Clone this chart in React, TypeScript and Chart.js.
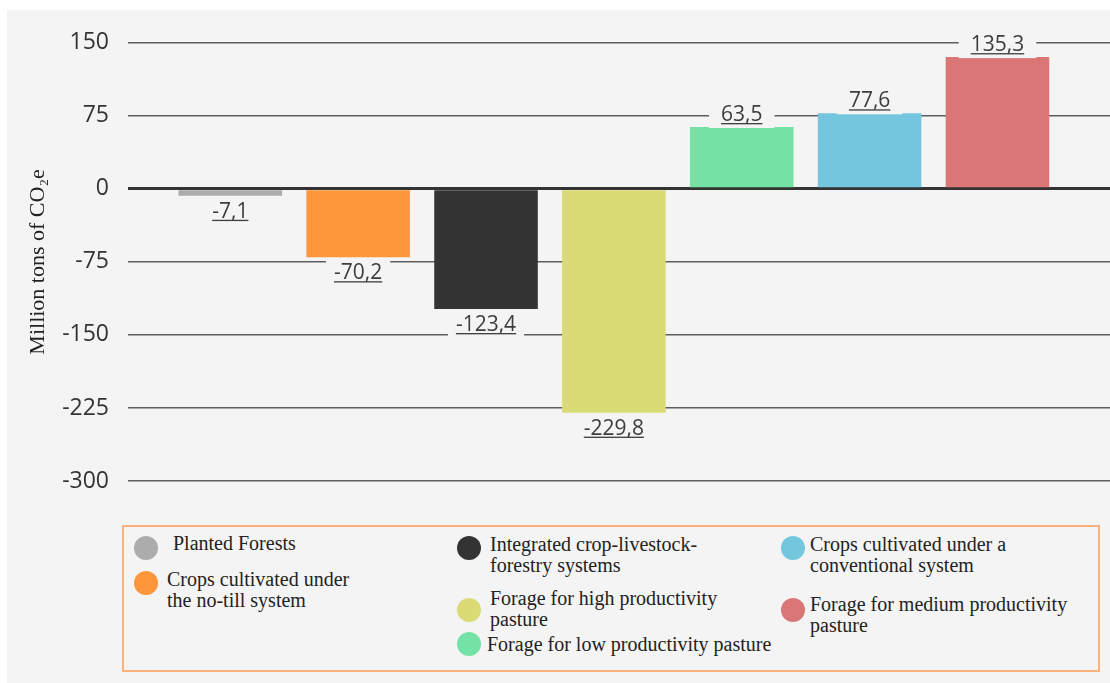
import React, { useEffect, useRef } from "react";
import { Chart, registerables } from "chart.js";

Chart.register(...registerables);

// ---- data ----
const categories = [
  "Planted Forests",
  "Crops cultivated under the no-till system",
  "Integrated crop-livestock-forestry systems",
  "Forage for high productivity pasture",
  "Forage for low productivity pasture",
  "Crops cultivated under a conventional system",
  "Forage for medium productivity pasture",
];
const legendLines = [
  ["Planted Forests"],
  ["Crops cultivated under", "the no-till system"],
  ["Integrated crop-livestock-", "forestry systems"],
  ["Forage for high productivity", "pasture"],
  ["Forage for low productivity pasture"],
  ["Crops cultivated under a", "conventional system"],
  ["Forage for medium productivity", "pasture"],
];
const values = [-7.1, -70.2, -123.4, -229.8, 63.5, 77.6, 135.3];
const colors = ["#acacac", "#fd963a", "#333333", "#dbdb76", "#74e2a5", "#74c6de", "#db7676"];
const yTicks = [150, 75, 0, -75, -150, -225, -300];
const yTitle = "Million tons of CO\u2082e";

// ---- layout (styles only) ----
const PANEL_X = 7;
const PANEL_Y = 10;
const CANVAS_W = 1103;
const CANVAS_H = 505;
// legend item positions in page coords: marker center (mx,my), text left (tx), text top (ty)
const legendPos = [
  { mx: 146, my: 548, tx: 173, ty: 533 },
  { mx: 146, my: 583, tx: 167, ty: 569 },
  { mx: 469, my: 548, tx: 490, ty: 534 },
  { mx: 469, my: 610, tx: 490, ty: 588 },
  { mx: 469, my: 644, tx: 487, ty: 634 },
  { mx: 793, my: 548, tx: 810, ty: 534 },
  { mx: 793, my: 610, tx: 810, ty: 594 },
];

const fmt = (v: number) => v.toFixed(1).replace(".", ",");

const valueLabelPlugin = {
  id: "valueLabels",
  afterDatasetsDraw(chart: any) {
    const ctx = chart.ctx;
    const meta = chart.getDatasetMeta(0);
    ctx.save();
    ctx.font = '21px "Open Sans"';
    ctx.textBaseline = "alphabetic";
    ctx.textAlign = "left";
    meta.data.forEach((el: any, i: number) => {
      const v = values[i];
      const text = fmt(v);
      const w = ctx.measureText(text).width;
      const baseline = v >= 0 ? el.y - 6 : el.y + 22;
      const left = el.x - w / 2;
      ctx.fillStyle = "#f4f4f4";
      if (v >= 0) ctx.fillRect(left - 12, baseline - 20, w + 24, 27);
      else ctx.fillRect(left - 8, baseline - 20, w + 16, 25);
      ctx.fillStyle = "#3d3d3d";
      ctx.fillText(text, left, baseline);
      ctx.fillRect(left, baseline + 2, w, 1.3);
    });
    ctx.restore();
  },
};

function ChartCanvas() {
  const ref = useRef<HTMLCanvasElement | null>(null);
  useEffect(() => {
    if (!ref.current) return;
    const chart = new Chart(ref.current, {
      type: "bar",
      data: {
        labels: categories,
        datasets: [
          {
            label: yTitle,
            data: values.map((v, i) => ({ x: i, y: v })) as any,
            backgroundColor: colors,
            borderWidth: 0,
            barPercentage: 0.9,
            categoryPercentage: 0.9,
          },
        ],
      },
      options: {
        animation: false,
        responsive: false,
        devicePixelRatio: 1,
        layout: { padding: { top: 28, bottom: 34, left: 0, right: 0 } },
        plugins: {
          legend: { display: false },
          tooltip: { enabled: false },
        },
        scales: {
          x: {
            type: "linear",
            display: false,
            offset: false,
            min: -0.8,
            max: 6.88,
            afterBuildTicks: (scale: any) => {
              scale.ticks = categories.map((_, i) => ({ value: i }));
            },
          },
          y: {
            min: -300,
            max: 150,
            afterBuildTicks: (scale: any) => {
              scale.ticks = yTicks.map((v) => ({ value: v }));
            },
            afterFit: (scale: any) => {
              scale.width = 121;
            },
            border: { display: false },
            grid: {
              drawTicks: false,
              color: (c: any) => (c.tick && c.tick.value === 0 ? "#333333" : "#5e5e5e"),
              lineWidth: (c: any) => (c.tick && c.tick.value === 0 ? 3 : 1.5),
            },
            ticks: {
              padding: 19,
              color: "#333333",
              font: { family: "Open Sans", size: 23 },
            },
            title: {
              display: true,
              text: yTitle,
              color: "#222222",
              font: { family: "Liberation Serif", size: 22 },
              padding: { top: 18, bottom: 0 },
            },
          },
        },
      },
      plugins: [valueLabelPlugin],
    });
    return () => chart.destroy();
  }, []);
  return (
    <canvas
      ref={ref}
      width={CANVAS_W}
      height={CANVAS_H}
      style={{ position: "absolute", left: 0, top: 0, width: CANVAS_W, height: CANVAS_H, display: "block" }}
    />
  );
}

export default function App() {
  return (
    <div
      style={{
        position: "absolute",
        left: PANEL_X,
        top: PANEL_Y,
        width: 1110 - PANEL_X,
        height: 683 - PANEL_Y,
        background: "#f4f4f4",
        overflow: "hidden",
      }}
    >
      <ChartCanvas />
      <div
        style={{
          position: "absolute",
          left: 122 - PANEL_X,
          top: 525 - PANEL_Y,
          width: 1100 - 122,
          height: 672 - 525,
          border: "2px solid #f9b27c",
          boxSizing: "border-box",
        }}
      />
      {categories.map((c, i) => {
        const p = legendPos[i];
        return (
          <React.Fragment key={c}>
            <div
              style={{
                position: "absolute",
                left: p.mx - 12 - PANEL_X,
                top: p.my - 12 - PANEL_Y,
                width: 24,
                height: 24,
                borderRadius: "50%",
                background: colors[i],
              }}
            />
            <div
              style={{
                position: "absolute",
                left: p.tx - PANEL_X,
                top: p.ty - PANEL_Y,
                fontFamily: '"Liberation Serif", serif',
                fontSize: 20,
                lineHeight: "21px",
                color: "#222222",
                whiteSpace: "nowrap",
              }}
            >
              {legendLines[i].map((l, j) => (
                <div key={j}>{l}</div>
              ))}
            </div>
          </React.Fragment>
        );
      })}
    </div>
  );
}
